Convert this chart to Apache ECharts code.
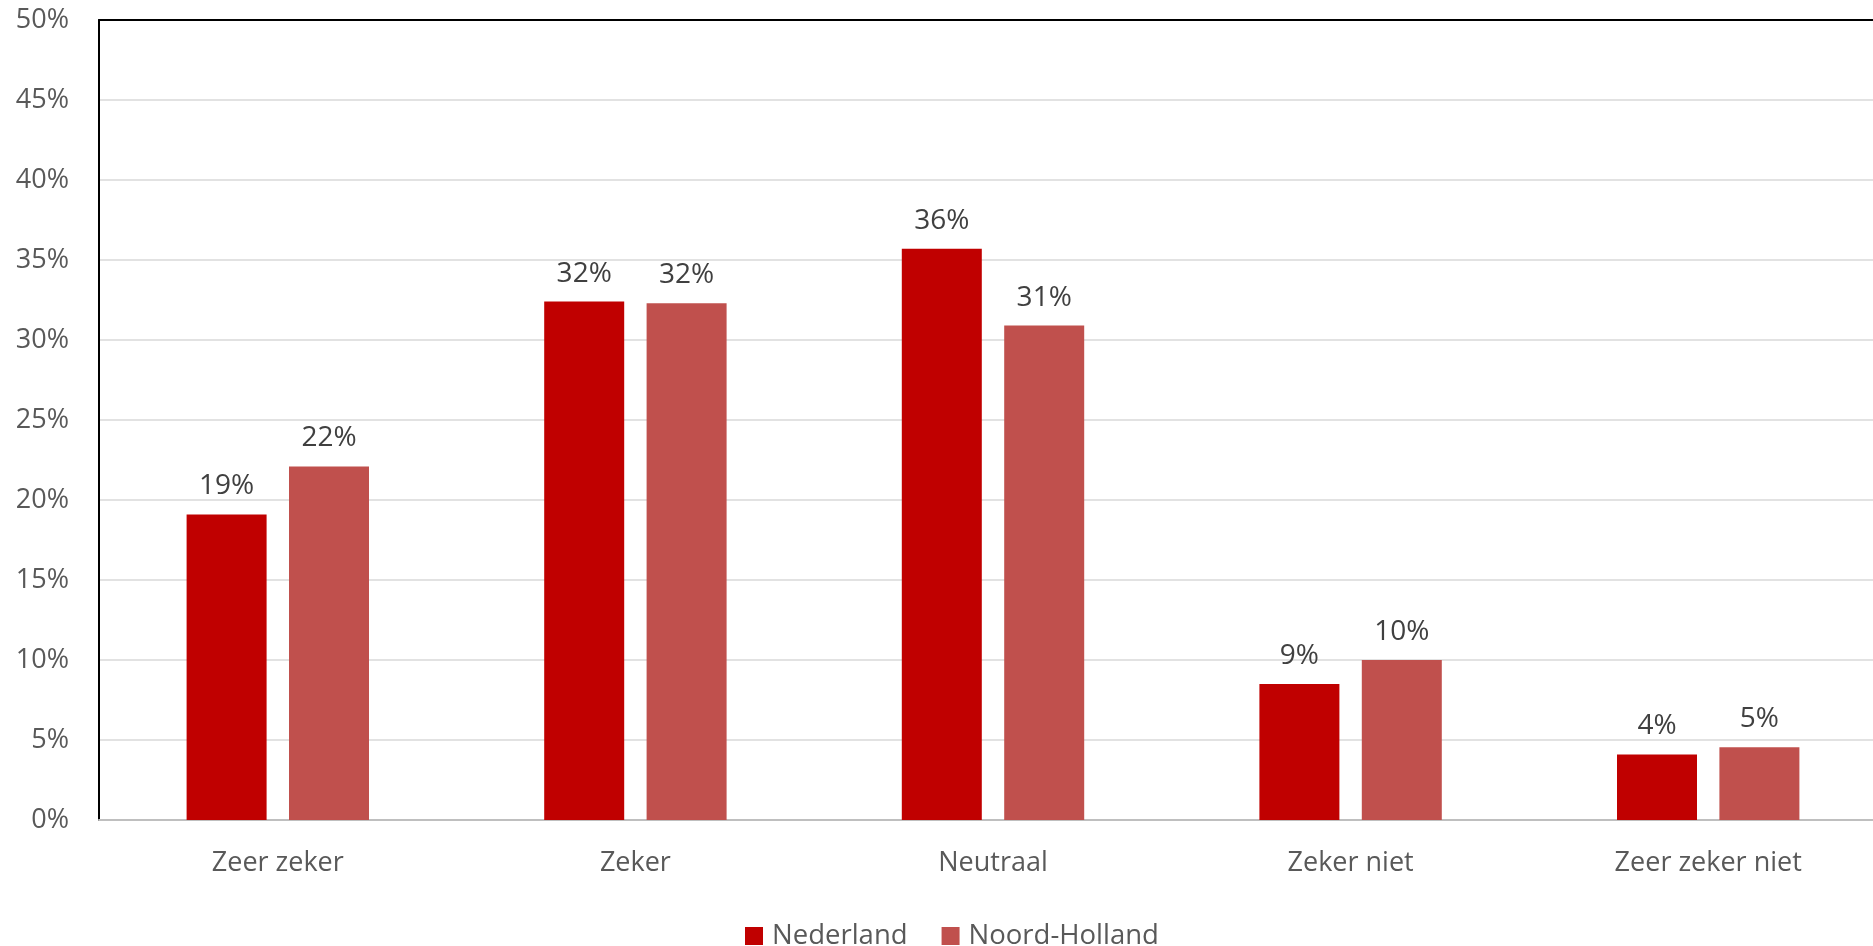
<!DOCTYPE html>
<html>
<head>
<meta charset="utf-8">
<title>Zeer zeker - Zeer zeker niet</title>
<script src="https://cdn.jsdelivr.net/npm/echarts@6/dist/echarts.min.js"></script>
<style>
    html, body { margin: 0; padding: 0; background: #fff; }
    #chart { width: 1873px; height: 946px; }
</style>
</head>
<body>
<div id="chart"></div>
<script>
// categorieën en waarden (percentages)
const categories = ['Zeer zeker', 'Zeker', 'Neutraal', 'Zeker niet', 'Zeer zeker niet'];
const nederland = [19.1, 32.4, 35.7, 8.5, 4.1];
const noordHolland = [22.1, 32.3, 30.9, 10.0, 4.55];
const seriesNames = ['Nederland', 'Noord-Holland'];

const font = '"Open Sans", "Noto Sans", sans-serif';

const myChart = echarts.init(document.getElementById('chart'));

const barLabel = {
    show: true,
    position: 'top',
    distance: 14,
    color: '#404040',
    fontFamily: font,
    fontSize: 28,
    formatter: function (p) {
        return Math.round(p.value) + '%';
    },
};

const option = {
    animation: false,
    backgroundColor: '#fff',
    grid: {
        left: 99,
        width: 1788, // plotvlak loopt rechts buiten beeld
        top: 20,
        bottom: 126,
        containLabel: false,
        outerBoundsMode: 'none',
    },
    legend: {
        data: seriesNames,
        left: 740,
        top: 917,
        itemWidth: 18,
        itemHeight: 18,
        itemGap: 34,
        icon: 'rect',
        textStyle: {
            color: '#595959',
            fontFamily: font,
            fontSize: 27.5,
            padding: [0, 0, 0, 4],
        },
    },
    xAxis: [
        {
            type: 'category',
            data: categories,
            axisLine: {
                show: true,
                lineStyle: { color: '#BFBFBF', width: 2 },
            },
            axisTick: { show: false },
            axisLabel: {
                color: '#595959',
                fontFamily: font,
                fontSize: 27,
                margin: 30,
            },
            splitLine: { show: false },
        },
        {
            // bovenrand van het plotvlak
            type: 'category',
            position: 'top',
            data: categories,
            axisLine: {
                show: true,
                lineStyle: { color: '#000', width: 2 },
            },
            axisTick: { show: false },
            axisLabel: { show: false },
        },
    ],
    yAxis: {
        type: 'value',
        min: 0,
        max: 50,
        interval: 5,
        axisLine: {
            show: true,
            lineStyle: { color: '#000', width: 2 },
        },
        axisTick: { show: false },
        axisLabel: {
            formatter: '{value}%',
            color: '#595959',
            fontFamily: font,
            fontSize: 27,
            margin: 30,
        },
        splitLine: {
            lineStyle: { color: '#D9D9D9', width: 1.5 },
        },
    },
    series: [
        {
            name: seriesNames[0],
            type: 'bar',
            data: nederland,
            barWidth: 80,
            barGap: '28%',
            itemStyle: { color: '#C00000' },
            label: barLabel,
        },
        {
            name: seriesNames[1],
            type: 'bar',
            data: noordHolland,
            barWidth: 80,
            itemStyle: { color: '#C0504D' },
            label: barLabel,
        },
    ],
};

myChart.setOption(option);
myChart.resize();
</script>
</body>
</html>
